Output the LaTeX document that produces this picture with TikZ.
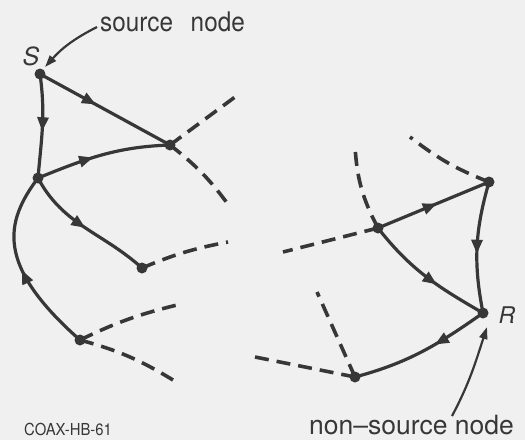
\documentclass[tikz,border=0pt]{standalone}
\usepackage{fontspec}
\setmainfont{TeX Gyre Heros}
\newfontfamily\narrowfont[FakeStretch=0.9]{TeX Gyre Heros}
\usetikzlibrary{arrows.meta,decorations.markings}
\definecolor{ink}{RGB}{55,55,55}
\definecolor{paper}{RGB}{240,240,240}
\begin{document}
\begin{tikzpicture}[x=1pt,y=1pt,
  dot/.style={circle,fill=ink,inner sep=0pt,minimum size=11pt},
  edge/.style={color=ink,line width=3.2pt},
  midarrow/.style={postaction={decorate,decoration={markings,mark=at position #1 with {\arrow{Triangle[length=14pt,width=11pt]}}}}},
  stub/.style={draw=ink,line width=3.6pt,dash pattern=on 14pt off 8pt},
  pointer/.style={color=ink,line width=2.2pt,-{Triangle[length=12pt,width=8pt]}},
  lbl/.style={text=ink,inner sep=0pt}
]
\useasboundingbox (0,0) rectangle (525,-440);
\fill[paper] (0,0) rectangle (525,-440);

% nodes
\node[dot] (S) at (40,-74) {};
\node[dot] (A) at (38,-178) {};
\node[dot] (B) at (170,-145) {};
\node[dot] (C) at (142,-268) {};
\node[dot] (D) at (80,-340) {};
\node[dot] (E) at (378,-228) {};
\node[dot] (F) at (489,-182) {};
\node[dot] (R) at (483,-313) {};
\node[dot] (G) at (355,-377) {};

% free ends of dashed stubs
\coordinate (b1) at (235,-97);
\coordinate (b2) at (230,-207);
\coordinate (c1) at (228,-242);
\coordinate (d1) at (177,-305);
\coordinate (d2) at (173,-380);
\coordinate (e1) at (355,-147);
\coordinate (e2) at (283,-252);
\coordinate (f1) at (410,-137);
\coordinate (g1) at (317,-292);
\coordinate (g2) at (255,-357);

% directed edges
\draw[edge,midarrow=0.55] (S.center) to[out=-82,in=85] (A.center);
\draw[edge,midarrow=0.43] (S.center) -- (B.center);
\draw[edge,midarrow=0.43] (A.center) to[out=22,in=182] (B.center);
\draw[edge,midarrow=0.5] (A.center) to[out=-62,in=138] (C.center);
\draw[edge,midarrow=0.48] (D.center) .. controls (-5,-265) and (5,-222) .. (A.center);
\draw[edge,midarrow=0.53] (E.center) -- (F.center);
\draw[edge,midarrow=0.55] (F.center) to[out=-106,in=101] (R.center);
\draw[edge,midarrow=0.6] (E.center) to[out=-52,in=150] (R.center);
\draw[edge,midarrow=0.4] (R.center) to[out=215,in=15] (G.center);

% dashed stubs
\draw[stub] (B.center) -- (b1);
\draw[stub] (B.center) to[bend left=8] (b2);
\draw[stub] (C.center) to[bend left=6] (c1);
\draw[stub] (D.center) to[bend left=6] (d1);
\draw[stub] (D.center) to[bend left=8] (d2);
\draw[stub] (E.center) to[bend left=12] (e1);
\draw[stub] (E.center) -- (e2);
\draw[stub] (F.center) to[bend left=8] (f1);
\draw[stub] (G.center) -- (g1);
\draw[stub] (G.center) -- (g2);

% labels
\node[lbl,font=\narrowfont\fontsize{27}{30}\selectfont,anchor=base west] (srclbl) at (100,-31) {source\hspace{11pt} node};
\node[lbl,font=\fontsize{26.5}{30}\selectfont,anchor=base west] (nslbl) at (309,-434) {non--source node};
\node[lbl,font=\narrowfont\fontsize{16.5}{18}\selectfont,anchor=base west] (code) at (24,-435) {COAX-HB-61};
\node[lbl,font=\itshape\fontsize{25}{28}\selectfont] (Slbl) at (31,-56) {S};
\node[lbl,font=\itshape\fontsize{23}{26}\selectfont] (Rlbl) at (507,-315) {R};

% pointers
\coordinate (p1) at (97,-27);
\draw[pointer] (p1) to[out=207,in=48] ([shift={(5,7)}]S.center);
\coordinate (p2) at (452,-416);
\draw[pointer] (p2) to[out=62,in=-108] ([shift={(4,-14)}]R.center);
\end{tikzpicture}
\end{document}
